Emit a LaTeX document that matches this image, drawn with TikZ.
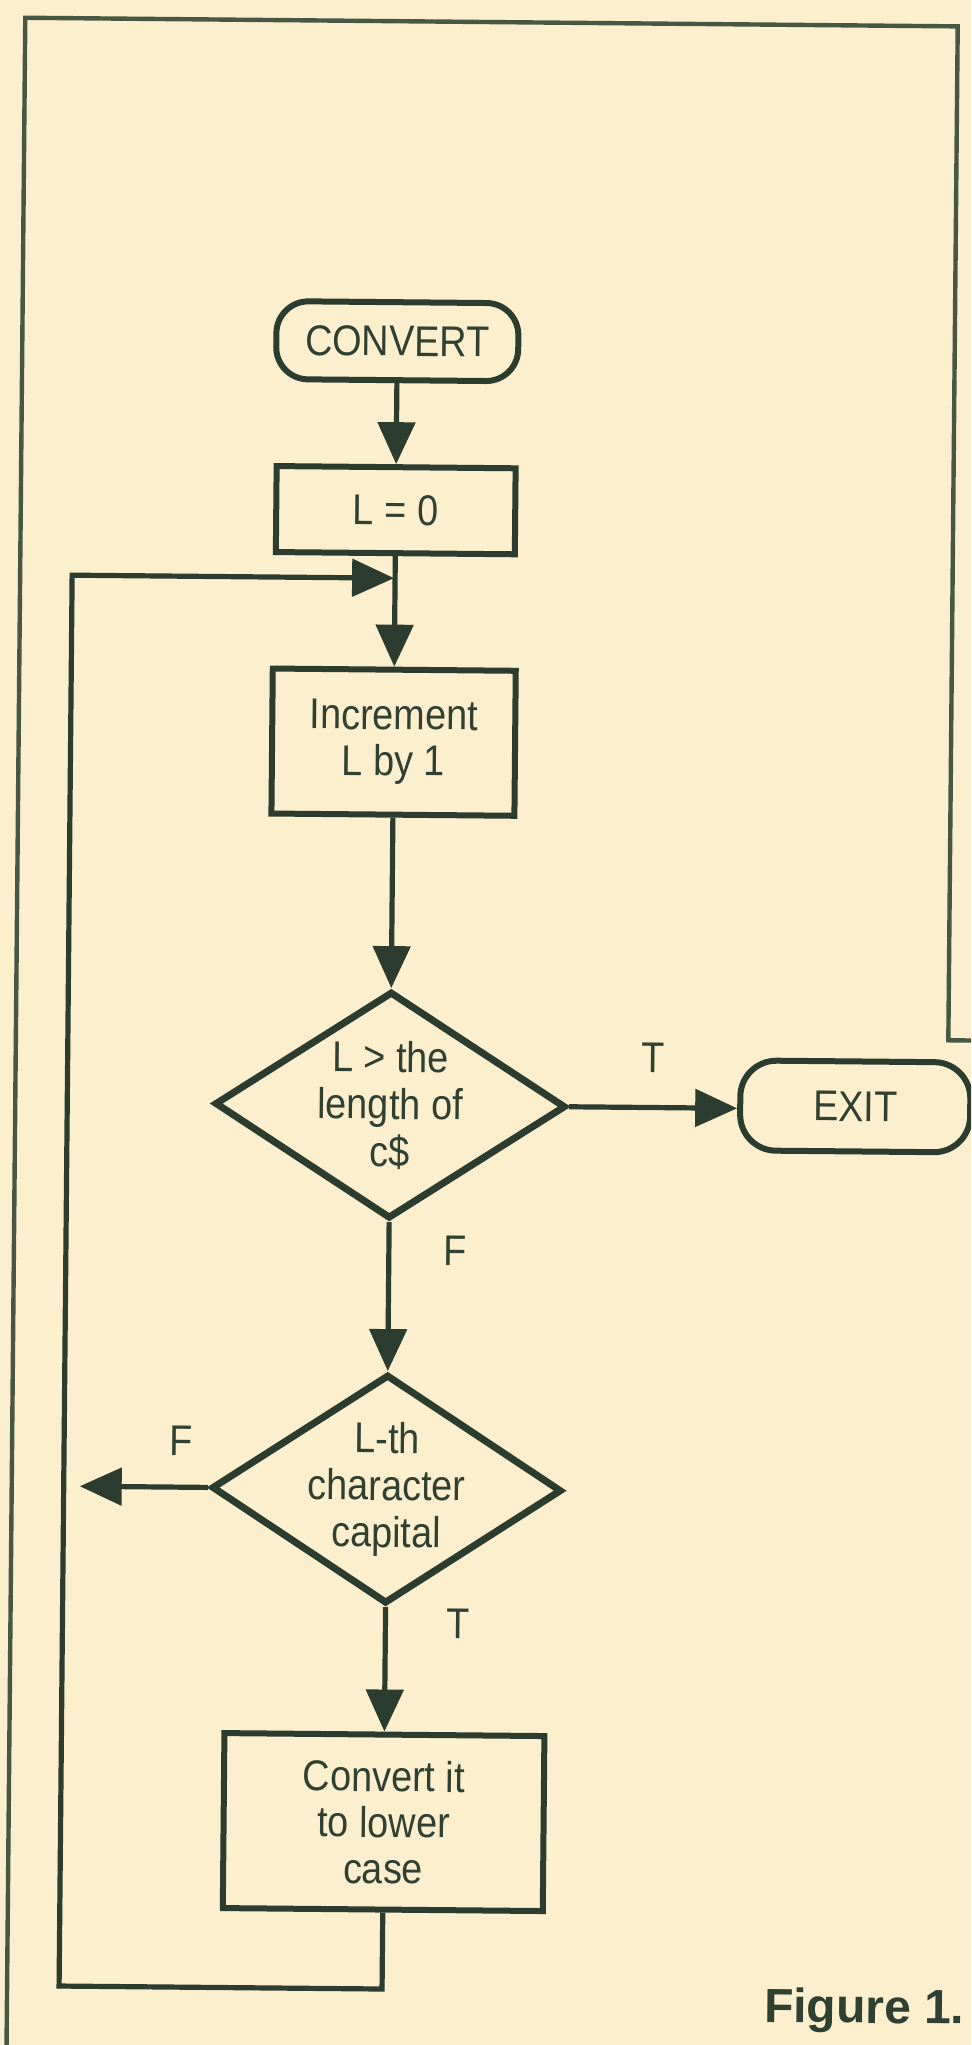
\documentclass[tikz,border=0pt]{standalone}
\usepackage{fontspec}
\setmainfont{Liberation Sans}[FakeStretch=0.88]
\newfontfamily\figfont{Liberation Sans}
\usetikzlibrary{shapes.geometric,arrows.meta}
\definecolor{paper}{RGB}{252,239,206}
\definecolor{ink}{RGB}{44,60,46}
\definecolor{textink}{RGB}{48,64,50}
\definecolor{frameink}{RGB}{72,86,68}
\begin{document}
\begin{tikzpicture}[x=0.5pt,y=-0.5pt,
  every node/.style={text=textink, font=\fontsize{21.5pt}{23pt}\selectfont},
  conn/.style={draw=ink, line width=2.6pt},
  arr/.style={conn, -{Triangle[length=21pt,width=18.5pt]}},
  procbox/.style={draw=ink, line width=3pt, rectangle, inner sep=0pt, align=center},
  termbox/.style={draw=ink, line width=3pt, rectangle, rounded corners=16pt, inner sep=0pt, align=center},
  decbox/.style={draw=ink, line width=3.5pt, diamond, inner sep=0pt},
  dectext/.style={align=center, inner sep=0pt, font=\fontsize{21.5pt}{23.5pt}\selectfont},
  lbl/.style={inner sep=0pt}
]
\useasboundingbox (0,0) rectangle (971,2045);
\fill[paper] (0,0) rectangle (971,2045);
\clip (0,0) rectangle (971,2045);
\begin{scope}[rotate around={-0.53:(485,1022)}, transform shape]
  % frame
  \draw[frameink, line width=2.2pt, line join=miter] (16,2100) -- (16,22) -- (948.5,22) -- (948.5,1036) -- (1010,1036);

  % nodes
  \node[termbox, minimum width=121pt, minimum height=39pt] (convert) at (391,342) {CONVERT};
  \node[procbox, minimum width=119.5pt, minimum height=43pt] (l0) at (391,511) {L = 0};
  \node[procbox, minimum width=121.5pt, minimum height=72.5pt] (inc) at (391,743) {Increment\\L by 1};
  \node[decbox, minimum width=175.5pt, minimum height=113.5pt] (d1) at (391,1106) {};
  \node[dectext] (d1t) at (d1) {L > the\\length of\\c\$};
  \node[termbox, rounded corners=18pt, minimum width=115pt, minimum height=45pt] (exit) at (856,1103) {EXIT};
  \node[decbox, minimum width=175pt, minimum height=114.5pt] (d2) at (391,1490) {};
  \node[dectext] (d2t) at (d2) {L-th\\character\\capital};
  \node[procbox, minimum width=160pt, minimum height=87.5pt] (cbox) at (391,1823) {Convert it\\to lower\\case};

  % labels
  \node[lbl] (tlab1) at (654,1056) {T};
  \node[lbl] (flab1) at (457,1251) {F};
  \node[lbl] (flab2) at (185,1444) {F};
  \node[lbl] (tlab2) at (464,1624) {T};

  % connectors
  \draw[arr] (convert) -- (l0);
  \draw[arr] (l0) -- (inc);
  \draw[arr] (inc) -- (d1);
  \draw[arr] (d1.east) -- (d1.east -| exit.west);
  \draw[arr] (d1) -- (d2);
  \coordinate (ftip) at (84,1490);
  \draw[arr] (d2.west) -- (ftip);
  \draw[arr] (d2) -- (cbox);
  \coordinate (lb) at (391,1990);
  \coordinate (ll) at (68,1990);
  \coordinate (lt) at (68,579);
  \coordinate (lj) at (390,579);
  \draw[arr, line join=miter] (cbox.south) -- (lb) -- (ll) -- (lt) -- (lj);

  % caption
  \node[anchor=base west, inner sep=0pt, font=\figfont\bfseries\fontsize{24pt}{26pt}\selectfont] (fig) at (773,2019.5) {Figure 1.};
\end{scope}
\end{tikzpicture}
\end{document}
